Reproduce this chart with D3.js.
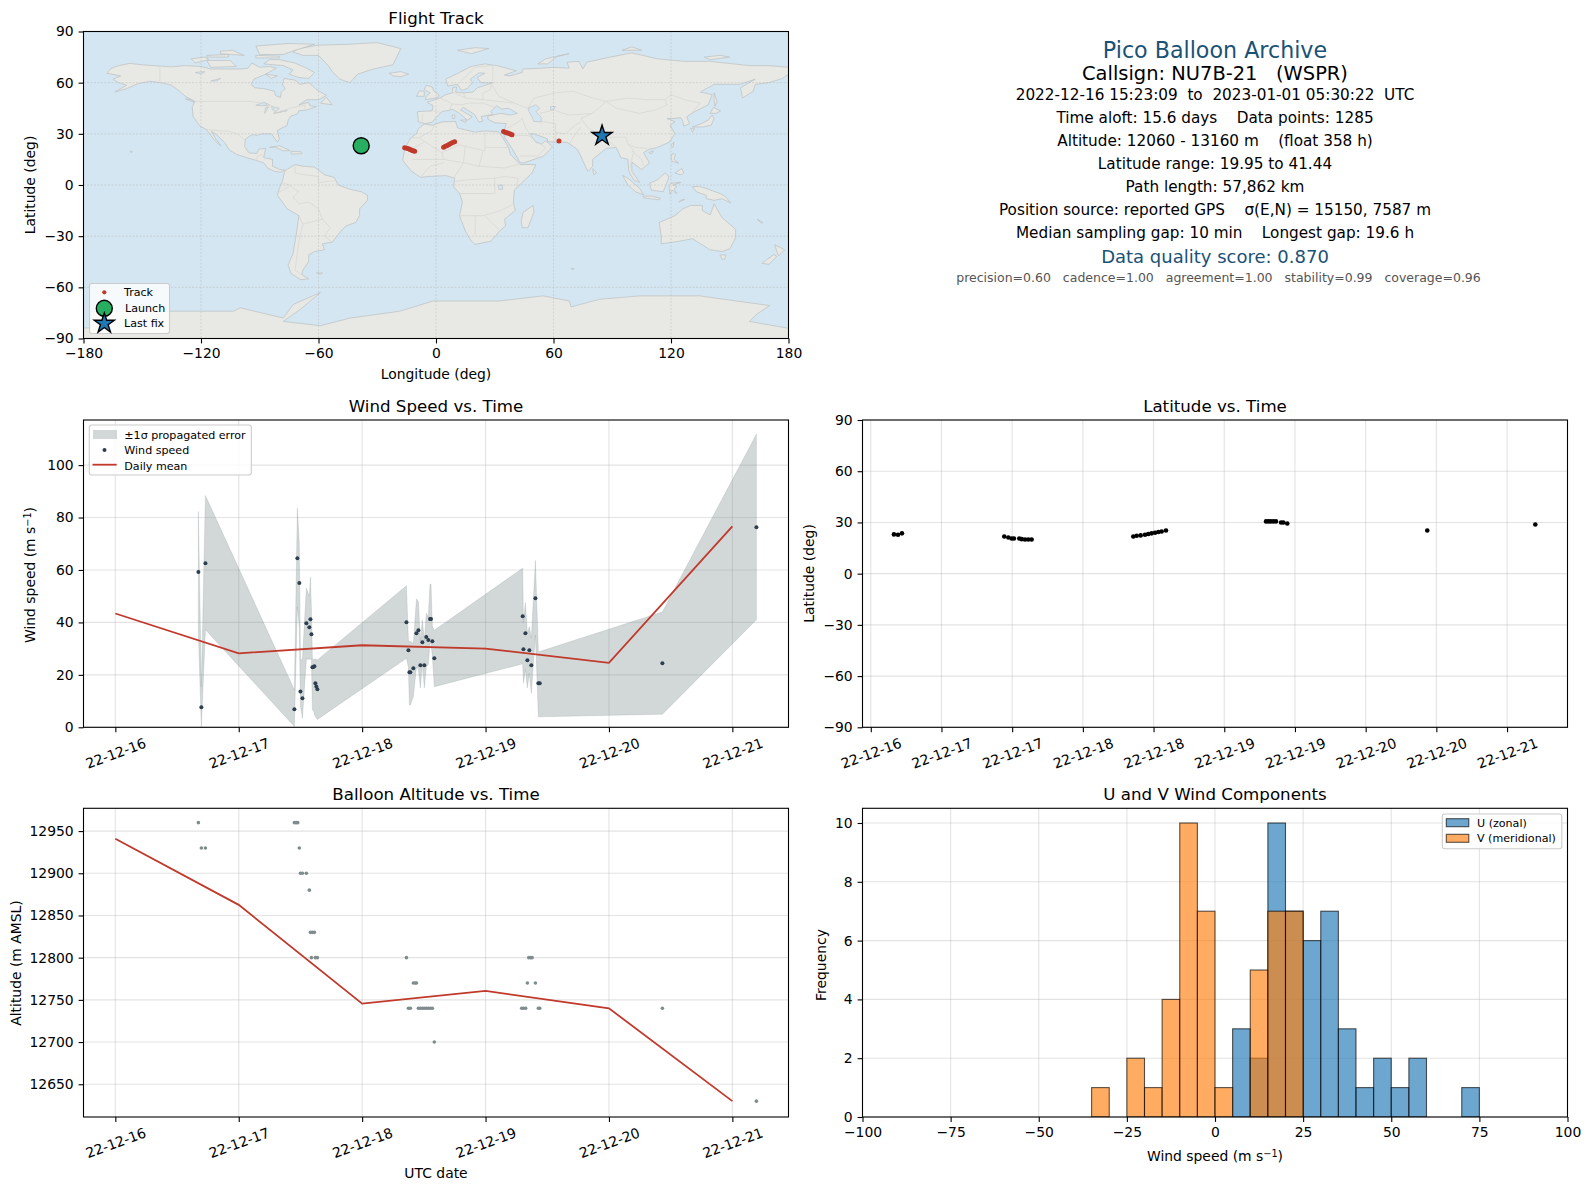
<!DOCTYPE html>
<html lang="en">
<head>
<meta charset="UTF-8">
<title>Pico Balloon Archive - NU7B-21</title>
<script src="https://d3js.org/d3.v7.min.js"></script>
<style>
  html, body { margin: 0; padding: 0; background: #fff; }
  svg { display: block; }
  text { font-family: 'DejaVu Sans', sans-serif; fill: #000; white-space: pre; }
  .axis path, .axis line { stroke: #000; stroke-width: 1.1px; }
  .axis text { font-size: 13.9px; }
  .title { font-size: 16.67px; text-anchor: middle; }
  .label { font-size: 13.9px; text-anchor: middle; }
  .grid line { stroke: #b0b0b0; stroke-opacity: 0.35; stroke-width: 1.1px; }
  .legend-box { fill: #fff; fill-opacity: 0.8; stroke: #ccc; stroke-width: 1.1px; }
  .legend text { font-size: 11.1px; }
</style>
</head>
<body>
<svg id="fig" width="1589" height="1189"></svg>
<script>
// ---- flight track ----
const trackLon = [-16,-15,-14,-13.2,-12.4,-11.7,-10.9, 3.9,4.8,5.7,6.6,7.5,8.5,9.5, 34.5,35.3,36.1,37,37.9,38.8, 62.8];
const trackLat = [21.9,21.6,21.2,20.8,20.4,20.1,19.8, 22.1,22.7,23.2,23.8,24.3,24.9,25.4, 31.3,31,30.6,30.3,29.9,29.5, 25.8];
const launchPos = [-38.2, 23];
const lastFix = [84.8, 28.9];

// ---- wind speed, day offsets from the first tick ----
const windDay = [0.673,0.697,0.730,1.451,1.475,1.491,1.500,1.516,1.548,1.572,1.581,1.589,1.597,1.605,1.613,1.621,1.629,1.637,2.359,2.375,2.383,2.391,2.415,2.440,2.456,2.472,2.488,2.504,2.520,2.536,2.550,2.558,2.569,2.585,3.301,3.307,3.323,3.339,3.355,3.371,3.404,3.428,3.439,4.433,5.195];
const windVal = [59.2,7.6,62.6,6.9,64.5,55.0,13.7,11.1,39.7,38.2,41.2,35.5,22.9,23.0,23.3,16.8,15.6,14.5,40.1,29.4,21.0,21.0,22.5,35.9,37.0,23.7,32.4,23.7,34.4,33.3,41.3,41.3,32.8,26.3,42.4,29.8,35.9,25.6,29.4,23.7,49.2,16.8,16.8,24.4,76.3];
const windHi = [82.3,15.5,88.4,14.2,83.6,70,25.7,26,53,50,57.3,44.8,26,26,26,26,26,25.7,54,33,32.7,32.7,32,49,48,33,41,33,43.5,42,54.6,54.6,38.4,37,60.7,40,47.6,35.9,38.4,34,63.6,28.9,28.9,44,111.8];
const windLo = [36,0,37.2,0.3,46,38,8,3.4,26,26,26,26,6.6,6.6,5,4,3.5,3,26.3,23,8.5,8.5,11.7,23,22,15,24,15,23,24,32,32,27,15.5,24.2,16.8,22,15,20.6,13,35.2,4,4,5,41];
const meanDay = [0,1,2,3,4,5];
const windMean = [43.4,28.2,31.3,30,24.6,76.6];
const altMean = [12941,12862.6,12745.6,12760.6,12740,12630];

// ---- latitude vs time ----
const latDay = [0.182,0.214,0.245,1.049,1.081,1.107,1.125,1.167,1.186,1.212,1.238,1.264,2.063,2.09,2.121,2.155,2.181,2.207,2.234,2.26,2.286,2.32,3.106,3.124,3.143,3.163,3.184,3.224,3.242,3.273,4.373,5.222];
const latVal = [23,22.8,23.6,21.8,21.2,20.6,20.6,20.6,20.2,20,20,20,21.8,22.2,22.4,22.8,23.2,23.6,24,24.4,24.7,25.3,30.6,30.6,30.6,30.6,30.6,30,30,29.4,25.3,28.8];

// ---- altitude vs time ----
const altDay = [0.673,0.697,0.730,1.451,1.465,1.478,1.491,1.5,1.516,1.548,1.572,1.581,1.597,1.613,1.589,1.621,1.637,2.359,2.375,2.391,2.415,2.43,2.44,2.456,2.472,2.488,2.504,2.52,2.536,2.553,2.569,2.585,3.293,3.309,3.325,3.339,3.35,3.366,3.377,3.404,3.428,3.439,4.433,5.195];
const altVal = [12960,12930,12930,12960,12960,12960,12930,12900,12900,12900,12880,12830,12830,12830,12800,12800,12800,12800,12740,12740,12770,12770,12770,12740,12740,12740,12740,12740,12740,12740,12740,12700,12740,12740,12740,12770,12800,12800,12800,12770,12740,12740,12740,12630];

// ---- histogram, 5 m/s bins, left edge ----
const uEdges = [5,10,15,20,25,30,35,40,45,50,55,70];
const uCounts = [3,2,10,7,6,7,3,1,2,1,2,1];
const vEdges = [-35,-25,-20,-15,-10,-5,0,10,15,20];
const vCounts = [1,2,1,4,10,7,1,5,7,7];

const dayTicks2 = [0,1,2,3,4,5];
const dayLabels2 = ["22-12-16","22-12-17","22-12-18","22-12-19","22-12-20","22-12-21"];
const dayTicks1 = [0,0.5556,1.1111,1.6667,2.2222,2.7778,3.3333,3.8889,4.4444,5];
const dayLabels1 = ["22-12-16","22-12-17","22-12-17","22-12-18","22-12-18","22-12-19","22-12-19","22-12-20","22-12-20","22-12-21"];

const infoText = [
  "Pico Balloon Archive",
  "Callsign: NU7B-21   (WSPR)",
  "2022-12-16 15:23:09  to  2023-01-01 05:30:22  UTC",
  "Time aloft: 15.6 days    Data points: 1285",
  "Altitude: 12060 - 13160 m    (float 358 h)",
  "Latitude range: 19.95 to 41.44",
  "Path length: 57,862 km",
  "Position source: reported GPS    σ(E,N) = 15150, 7587 m",
  "Median sampling gap: 10 min    Longest gap: 19.6 h",
  "Data quality score: 0.870",
  "precision=0.60   cadence=1.00   agreement=1.00   stability=0.99   coverage=0.96"
];

// ---- simplified land, [lon,lat] rings ----
const landRings = [
  [[-168,65.5],[-166,68.3],[-162,70],[-156.5,71.3],[-150,70.5],[-141,69.7],[-135,69.3],[-128,70],[-120,69.5],[-115,68],[-108,68],[-100,68],[-96,68.5],[-94,71.5],[-90,69],[-85,69.5],[-81.5,68.5],[-87,65],[-93,62],[-94.5,59],[-92.5,57],[-88,56.5],[-82.5,55],[-82,52.5],[-79.5,51.3],[-79,54.5],[-77,56.5],[-78.5,59],[-77.5,62.5],[-72,61.5],[-69.5,59],[-65,60],[-61,56],[-56,52.5],[-60,50],[-66,50],[-70,47],[-65,48.5],[-64.5,46.5],[-61,46],[-66,44],[-70,43.5],[-71,41.5],[-74,40.5],[-75.5,38],[-76,35],[-81,32],[-80,27],[-81,25.2],[-82.8,28],[-84,30],[-89,30],[-91,29.2],[-94,29.5],[-97.3,27],[-97.7,22.5],[-95.5,18.8],[-91.5,18.5],[-90.5,21],[-87,21.5],[-88,16],[-83.5,15],[-83.5,11],[-80,9.2],[-77.3,8.7],[-79.5,7.5],[-83,8.2],[-86,10],[-88,13],[-92,14.5],[-96,15.8],[-102,18],[-105.5,20.5],[-108,25],[-112,29.5],[-114.7,31.5],[-112.5,27],[-109.8,23],[-112,25],[-115,29],[-117.2,32.5],[-120.5,34.5],[-124,40],[-124.5,46],[-123,49],[-128,52],[-131,55],[-135,58.5],[-140,60],[-146,60.8],[-152,59.5],[-158,56.5],[-164,54.5],[-158,58.5],[-162,60],[-165,62],[-161,64]],
  [[-73,78],[-68,76],[-60,76],[-55,70],[-53,66.5],[-49,62],[-44,60],[-40,65],[-32,68],[-22,70.5],[-20,75],[-18,80],[-30,83.5],[-45,82.5],[-60,82],[-70,80]],
  [[-80,73.5],[-72,71.5],[-67,69],[-62,66],[-65,62.5],[-70,63],[-75,65],[-73,67.5],[-78,70],[-88,71],[-85,73.5]],
  [[-117,73],[-105,73],[-102,69.5],[-115,69]],
  [[-125,74],[-118,75],[-116,73.5],[-123,71.5]],
  [[-90,76.5],[-78,76.5],[-72,79],[-62,82.5],[-75,83],[-92,81.5]],
  [[-92,76],[-80,75.5],[-80,74.5],[-92,74.5]],
  [[-117,76],[-106,76.5],[-106,75],[-117,75]],
  [[-110,78.5],[-104,79],[-98,76],[-110,77]],
  [[-87,65],[-81,64],[-84,62.5]],
  [[-59,48],[-56,51.5],[-53,47]],
  [[-128,50.5],[-125,50],[-123.5,48.5]],
  [[-156,20],[-155,19.5],[-155.7,19]],
  [[-85,22],[-80,23],[-74.5,20.2],[-78,20],[-82,22.2]],
  [[-74,19.8],[-69,19.5],[-68.5,18.3],[-74,18.2]],
  [[-61,-51.5],[-58,-51.5],[-59,-52.3]],
  [[-77,8.5],[-72,12],[-68,11],[-62,10.5],[-57,6],[-52,4.5],[-50,0],[-44,-2.5],[-38,-4],[-35,-6],[-35,-9],[-39,-14],[-39,-18],[-41,-22],[-46,-24],[-48.5,-27],[-53,-33.5],[-58,-34.5],[-57,-38],[-62,-39],[-65,-41],[-65,-45],[-68,-50],[-68.5,-52.5],[-65,-55],[-69,-55.5],[-74,-52],[-75.5,-47],[-73,-40],[-71.5,-30],[-70,-18],[-76,-14],[-81,-6],[-80,-2],[-78.5,2],[-77.5,7]],
  [[-6,35.8],[-2,35],[3,37],[10,37.3],[11,33.5],[15,32.3],[20,31],[25,31.7],[32,31.2],[34,28],[37,22],[38,18],[43,12],[51,12],[49,7],[44,1.5],[40,-3],[39.5,-10],[40.5,-15],[35,-20],[35.5,-24],[32.5,-27],[28,-33],[20,-34.8],[18,-33],[15,-27],[12,-18],[13.5,-10],[12,-5],[9,-1],[9.5,4],[5,5.5],[-4,5],[-8,4.5],[-13,8.5],[-17,14.5],[-16,21],[-13,27.5],[-10,30],[-9,33]],
  [[-9,37],[-9.5,43],[-2,43.5],[-1.5,46.5],[-4.5,48.5],[2,51],[5,53],[8.5,54],[8.5,57],[10.5,57.5],[10,54.5],[14,54],[19,54.5],[21,57],[24,58],[29,60],[23,60],[21,63],[25,65.5],[22,65.8],[17.5,62],[18.5,60],[16,56.5],[13,55.5],[11,59],[6,58],[5,62],[12,66],[18,69.5],[25,71],[31,70],[41,67],[35,64.5],[38,64],[44,66],[44,68],[54,68.5],[60,69],[68,68.5],[67,72],[73,72.5],[75,68],[77,72],[87,74.5],[100,77.5],[113,74],[127,72.5],[140,72.5],[160,70],[170,70],[180,69],[180,65],[177,62.5],[170,60],[163,59],[162,55],[156.5,51],[155.5,57],[163,62],[155,59],[142,59],[135,54.5],[141,53],[139,47],[132,43],[128,40],[129.5,36],[126.5,34.5],[126,37.5],[125,39.5],[121.5,39],[118,39],[122,37],[119.5,35],[122,30],[119,25],[113,22],[109,21],[106,19],[109,13],[105,9],[100,13.5],[100,8],[104,1.5],[101,3],[98.5,8],[98,15],[94.5,16],[92,22],[87,21.5],[80,15],[80,11],[77.5,8],[73,19],[72,21],[67,25],[61,25],[57,25.5],[57,27],[50,30],[48,30],[51,25],[54,24],[56,26],[59.5,22.5],[55,17],[45,13],[43,13],[39,21],[35,28],[34.5,31.5],[36,36],[30,36.5],[26.5,38.5],[26.5,40.5],[29,41],[33,42],[38,41],[41.5,42],[37,45],[33.5,44.5],[31,46.5],[28,43],[29,41.2],[26,40.8],[23,40],[24,37.5],[22,36.8],[19.5,41.5],[14,45.5],[12.5,44],[18.5,40],[16,38],[12,42],[8.5,44.3],[3,43],[0,39.5],[-2,36.8],[-5.5,36]],
  [[114,-22],[122,-18],[126,-14],[130,-12],[136,-12],[136,-15],[140,-17.5],[142,-11],[146,-19],[153,-26],[153,-31],[150,-37.5],[146,-39],[140,-38],[135,-34.5],[131,-31.5],[124,-33],[115,-34.5],[115,-30]],
  [[145,-41],[148,-41],[147.5,-43.5],[146,-43.5]],
  [[173,-35],[178,-38],[175,-41.5],[174,-39]],
  [[172.5,-40.7],[174,-42],[170,-46.5],[166.5,-46]],
  [[-180,-90],[-180,-83.8],[-176.6,-83.8],[-176.6,-74],[-137.5,-74],[-103.4,-74],[-100,-72],[-78,-78],[-72.8,-70],[-59,-63],[-69.4,-73],[-78,-80],[-59,-82.5],[-43.8,-78],[-18.5,-74],[-1.5,-68],[32.5,-68],[54.6,-65],[68,-68],[69,-71.5],[83.5,-67],[104,-65],[134.6,-65],[170.4,-70.7],[163.5,-76],[160,-80],[180,-84],[180,-90]],
  [[49.5,-12],[50,-16],[47,-25],[44,-25],[43.5,-21],[44.5,-16]],
  [[-5.5,50],[1,51.3],[1.5,52.8],[-1,55],[-2,57.5],[-5,58.5],[-6,56],[-3,54],[-5,52]],
  [[-10,52],[-6,52],[-6,55],[-8.5,55.2]],
  [[-24,65.5],[-18,66.5],[-14,65],[-18,63.5],[-22,64]],
  [[11,79],[20,80.5],[27,80],[18,77]],
  [[52,71],[56,74],[68,77],[62,75.5],[57,71]],
  [[95,79],[105,79],[100,81]],
  [[137,75],[145,76],[150,75],[140,73.5]],
  [[142,54],[143.5,49],[142.5,46],[142,50]],
  [[130.8,34],[135,35.7],[139,38],[141,41],[142,39],[140.5,35],[136,34]],
  [[130,33],[132,33],[131,31]],
  [[140,42],[141.7,45.5],[145.3,43.5],[143,42]],
  [[120,23],[121.5,25.2],[121,22]],
  [[108.7,19],[111,20],[110,18.2]],
  [[80,9.5],[82,7],[80.5,6]],
  [[120,16],[120.7,18.5],[122.3,18],[121.5,15],[124,12.8],[120.6,13.8]],
  [[122,7],[125.5,9.7],[126.5,7],[125,6]],
  [[109,1],[113,3],[117,7],[119,5],[117.8,1],[116,-4],[110,-3]],
  [[95.3,5.6],[98,4],[104,-2],[106,-5.8],[102,-4],[98,0]],
  [[105.5,-6.5],[110,-6.5],[114.5,-7.7],[114,-8.7],[106,-7.5]],
  [[119.5,-5.5],[119,-1],[120,1],[125,1.5],[121,0],[123,-1],[121.5,-2.5],[123,-5],[120.5,-3]],
  [[131,-1],[134,-0.8],[138,-2],[145,-5],[147.5,-6.5],[150.5,-10.5],[146,-8],[142,-9],[138,-8],[138,-6],[133,-4]],
  [[124,-10],[127,-8.5],[125,-8.9]],
  [[164,-20],[167,-22],[166,-22.3]],
  [[69,-49],[70.5,-49],[70,-49.7]],
  [[8.2,41],[9.7,41],[9.5,39],[8.4,39]],
  [[12.5,38],[15.5,38.2],[15,36.7]]
];
const lakeRings = [
  [[47,45],[51,47],[53,45],[51,43],[53.5,40],[54,37],[50,37.3],[49,40],[47.5,43]],
  [[58.5,46],[61,46],[60,44],[58.5,44]],
  [[-92,46.7],[-88,48.5],[-85,47],[-87,46.5]],
  [[-87.5,42],[-85.5,45.8],[-87,45.5]],
  [[-84,46],[-80,45],[-81.7,43.2],[-83.5,44]],
  [[-83,42],[-79,43],[-76,44],[-76.5,43.3],[-79.5,43.2],[-79,42.7]],
  [[32,0],[34,0],[34,-2.5],[32,-2.5]],
  [[-115,61],[-110,62.5],[-112,61]],
  [[-123,66],[-118,66.5],[-120,65]]
];
const borderLines = [
  [[-141,69.7],[-141,60],[-135,58.5]],
  [[-123,49],[-95,49],[-89,48],[-83,46],[-82.5,42.5],[-79,43],[-75,45],[-70,46],[-67,47],[-67,45]],
  [[-117,32.5],[-108,31.5],[-106,31.7],[-101,29.5],[-97.3,26]],
  [[-92,14.5],[-91,17],[-89,17.8],[-88,16]],
  [[-72,12],[-72,7],[-67,6],[-60,5],[-60,1.5],[-52,2.5]],
  [[-70,-4],[-73,-7],[-70,-11],[-65,-10],[-60,-14],[-58,-20],[-54,-25],[-57,-30],[-53,-33.5]],
  [[-78.5,1.5],[-75,0],[-70,-4]],
  [[-80,-4],[-75,-1]],
  [[-70,-18],[-68,-23],[-70,-33],[-72,-50],[-68.5,-52.5]],
  [[-68,-23],[-58,-20]],
  [[-8.7,27.7],[-13,27.7]],
  [[-8.7,27.7],[-2,32],[-1,35]],
  [[-8.7,27.7],[3,19],[12,23.5],[25,20],[25,31.7]],
  [[-17,21],[-13,21],[-6,25]],
  [[3,19],[4,15],[14,13],[15,23]],
  [[-12,15],[4,15]],
  [[25,22],[36.8,22]],
  [[14,13],[22,11],[24,20]],
  [[22,11],[35,10],[42,12]],
  [[9,4],[14,13]],
  [[12,-5],[30,-5],[30,4],[35,5],[42,4],[41,-2]],
  [[30,4],[16,3],[9,2]],
  [[12,-18],[24,-18],[33,-15],[40,-11]],
  [[20,-29],[20,-18]],
  [[25,-18],[32,-26]],
  [[-8,4.5],[-3,11],[4,13]],
  [[28,60],[32,52],[40,48],[47,45],[50,51],[61,54],[70,55],[80,51],[87,49],[98,51],[108,50],[117,50],[120,53],[127,50],[135,48],[131,43]],
  [[87,49],[92,45],[104,42],[112,44],[118,47],[117,50]],
  [[87,49],[80,42],[74,39],[78,33],[88,28],[97,28],[98,24],[102,22],[108,21.5]],
  [[53,42],[60,44],[68,41],[80,42]],
  [[44,39],[46,33],[48,30]],
  [[61,25],[61,31],[61,36],[53,37.5]],
  [[74,34],[70,28],[68,24]],
  [[61,31],[66,30],[71,35],[74,37]],
  [[88,26],[92,22]],
  [[2,51],[6,49],[8,47.5],[7,44]],
  [[8,47.5],[13,47],[17,48],[24,48],[30,45.5]],
  [[-1.5,43.3],[3,42.5]],
  [[-7,37.2],[-7,42]],
  [[8,54.8],[15,51],[14,54]],
  [[15,51],[24,50],[24,54],[28,56],[28,60]],
  [[24,50],[40,48]],
  [[35,29],[47,29],[56,22],[52,17],[43,17]],
  [[36,33],[42,37],[44,39]],
  [[100,20],[105,15],[106,11]],
  [[98,24],[101,20],[99,10]],
  [[12,60],[20,69],[29,70],[29,61]]
];

const RED = "#c0392b", NAVY = "#2c3e50", GREY = "#7f8c8d", BLUE = "#1a5276";
const svg = d3.select("#fig");
let clipId = 0;

// one matplotlib-like axes box
function panel(box, xDomain, yDomain, xTicks, yTicks, xFmt, yFmt, rotate) {
  const x = d3.scaleLinear().domain(xDomain).range([box.l, box.r]);
  const y = d3.scaleLinear().domain(yDomain).range([box.b, box.t]);
  const g = svg.append("g");
  const id = "clip" + (clipId++);
  svg.append("clipPath").attr("id", id).append("rect")
    .attr("x", box.l).attr("y", box.t).attr("width", box.r - box.l).attr("height", box.b - box.t);
  const bg = g.append("g");
  const grid = g.append("g").attr("class", "grid");
  grid.selectAll(".gx").data(xTicks).join("line").attr("class", "gx")
    .attr("x1", d => x(d)).attr("x2", d => x(d)).attr("y1", box.t).attr("y2", box.b);
  grid.selectAll(".gy").data(yTicks).join("line").attr("class", "gy")
    .attr("y1", d => y(d)).attr("y2", d => y(d)).attr("x1", box.l).attr("x2", box.r);
  const plot = g.append("g").attr("clip-path", `url(#${id})`);

  const finish = () => {
    const xa = svg.append("g").attr("class", "axis").attr("transform", `translate(0,${box.b})`)
      .call(d3.axisBottom(x).tickValues(xTicks).tickSize(4.9).tickPadding(4.9).tickFormat(xFmt));
    xa.select(".domain").remove();
    const ya = svg.append("g").attr("class", "axis").attr("transform", `translate(${box.l},0)`)
      .call(d3.axisLeft(y).tickValues(yTicks).tickSize(4.9).tickPadding(4.9).tickFormat(yFmt));
    ya.select(".domain").remove();
    if (rotate) {
      xa.selectAll("text").attr("y", 0).attr("dy", "0.35em").attr("text-anchor", "middle")
        .attr("transform", "translate(0,26) rotate(-20)");
    }
    svg.append("rect").attr("x", box.l).attr("y", box.t)
      .attr("width", box.r - box.l).attr("height", box.b - box.t)
      .attr("fill", "none").attr("stroke", "#000").attr("stroke-width", 1.1);
  };
  return {x, y, g, bg, grid, plot, finish};
}

const minus = d => String(d).replace("-", "\u2212");
const dayFmt = (ticks, labels) => d => labels[ticks.indexOf(d)];

function title(txt, x, y) {
  svg.append("text").attr("class", "title").attr("x", x).attr("y", y).text(txt);
}
function label(txt, x, y, vertical, sup) {
  const t = svg.append("text").attr("class", "label");
  if (vertical) t.attr("transform", `translate(${x},${y}) rotate(-90)`);
  else t.attr("x", x).attr("y", y);
  t.append("tspan").text(txt);
  if (sup) {
    t.append("tspan").attr("dy", "-0.4em").style("font-size", "9.7px").text(sup);
    t.append("tspan").attr("dy", "0.28em").text(")");
  }
}
function legendBox(x, y, w, h) {
  const g = svg.append("g").attr("class", "legend");
  g.append("rect").attr("class", "legend-box").attr("x", x).attr("y", y)
    .attr("width", w).attr("height", h).attr("rx", 2.5);
  return g;
}

const L = {l: 83.5, r: 788.5}, R = {l: 862.5, r: 1567.5};

// ---- map ----
{
  const p = panel({...L, t: 31.5, b: 338.5}, [-180, 180], [-90, 90],
    d3.range(-180, 181, 60), d3.range(-90, 91, 30), minus, minus);
  p.grid.raise();
  p.grid.selectAll("line").style("stroke-dasharray", "2,1.5").style("stroke-opacity", 0.55).style("stroke-width", 0.7);
  p.bg.append("rect").attr("x", L.l).attr("y", 31.5).attr("width", L.r - L.l).attr("height", 307).attr("fill", "#d4e6f1");
  const path = d3.line().x(d => p.x(d[0])).y(d => p.y(d[1]));
  const ring = d => path(d) + "Z";
  p.bg.selectAll(".land").data(landRings).join("path").attr("class", "land")
    .attr("d", ring).attr("fill", "#e8e8e4").attr("stroke", "#bcc0c0").attr("stroke-width", 0.7);
  p.bg.selectAll(".lake").data(lakeRings).join("path").attr("class", "lake")
    .attr("d", ring).attr("fill", "#d4e6f1").attr("stroke", "#bcc0c0").attr("stroke-width", 0.6);
  p.bg.selectAll(".border").data(borderLines).join("path").attr("class", "border")
    .attr("d", path).attr("fill", "none").attr("stroke", "#d6d6d2").attr("stroke-width", 0.7);
  p.plot.raise();
  p.plot.selectAll("circle.t").data(trackLon).join("circle").attr("class", "t")
    .attr("cx", d => p.x(d)).attr("cy", (d, i) => p.y(trackLat[i])).attr("r", 2.5).attr("fill", RED);
  p.plot.append("circle").attr("cx", p.x(launchPos[0])).attr("cy", p.y(launchPos[1])).attr("r", 8)
    .attr("fill", "#27ae60").attr("stroke", "#000").attr("stroke-width", 1.4);
  const star = d3.symbol().type(d3.symbolStar).size(126);
  p.plot.append("path").attr("d", star).attr("transform", `translate(${p.x(lastFix[0])},${p.y(lastFix[1])})`)
    .attr("fill", "#1f77b4").attr("stroke", "#000").attr("stroke-width", 1.4);
  p.finish();
  title("Flight Track", 436, 23.7);
  label("Longitude (deg)", 436, 379);
  label("Latitude (deg)", 35, 185, true);
  const lg = legendBox(89.5, 283.5, 80, 50);
  lg.append("circle").attr("cx", 104.3).attr("cy", 292.3).attr("r", 2.1).attr("fill", RED);
  lg.append("text").attr("x", 124).attr("y", 296.2).text("Track");
  lg.append("circle").attr("cx", 104.3).attr("cy", 308.3).attr("r", 8).attr("fill", "#27ae60").attr("stroke", "#000").attr("stroke-width", 1.4);
  lg.append("text").attr("x", 125).attr("y", 312).text("Launch");
  lg.append("path").attr("d", star).attr("transform", "translate(104.3,323.5)").attr("fill", "#1f77b4").attr("stroke", "#000").attr("stroke-width", 1.4);
  lg.append("text").attr("x", 124).attr("y", 327).text("Last fix");
}

// ---- text block ----
{
  const sizes = [22.2, 19.44, 15.25, 15.25, 15.25, 15.25, 15.25, 15.25, 15.25, 18, 12.5];
  const ys = [50, 73.3, 94.3, 117.7, 140.3, 163.7, 186.7, 209.3, 232.3, 256.7, 277.5];
  const fills = ["" + BLUE, "#000", "#000", "#000", "#000", "#000", "#000", "#000", "#000", BLUE, "#555"];
  const cx = (R.l + R.r) / 2;
  svg.append("g").selectAll("text").data(infoText).join("text")
    .attr("x", (d, i) => i == 10 ? cx + 3.5 : cx).attr("y", (d, i) => ys[i]).attr("dy", "0.36em")
    .attr("text-anchor", "middle")
    .style("font-size", (d, i) => sizes[i] + "px").style("fill", (d, i) => fills[i]).text(d => d);
}

// ---- wind speed ----
{
  const p = panel({...L, t: 420, b: 727.3}, [-0.258, 5.455], [0, 117.2],
    dayTicks2, d3.range(0, 101, 20), dayFmt(dayTicks2, dayLabels2), d3.format("d"), true);
  const area = d3.area().x(d => p.x(d)).y0((d, i) => p.y(windLo[i])).y1((d, i) => p.y(windHi[i]));
  p.plot.append("path").attr("d", area(windDay)).attr("fill", GREY).attr("fill-opacity", 0.35).attr("stroke", GREY).attr("stroke-opacity", 0.2);
  p.plot.selectAll("circle").data(windDay).join("circle")
    .attr("cx", d => p.x(d)).attr("cy", (d, i) => p.y(windVal[i])).attr("r", 2).attr("fill", NAVY);
  const line = d3.line().x(d => p.x(d)).y((d, i) => p.y(windMean[i]));
  p.plot.append("path").attr("d", line(meanDay)).attr("fill", "none").attr("stroke", RED).attr("stroke-width", 1.8);
  p.finish();
  title("Wind Speed vs. Time", 436, 411.7);
  label("Wind speed (m s", 35, 575, true, "\u22121");
  const lg = legendBox(89.3, 425, 162, 50);
  lg.append("rect").attr("x", 93).attr("y", 430).attr("width", 24).attr("height", 9).attr("fill", GREY).attr("fill-opacity", 0.35);
  lg.append("circle").attr("cx", 104.5).attr("cy", 450).attr("r", 2).attr("fill", NAVY);
  lg.append("line").attr("x1", 92.5).attr("x2", 116.7).attr("y1", 464.7).attr("y2", 464.7).attr("stroke", RED).attr("stroke-width", 1.8);
  lg.append("text").attr("x", 124.3).attr("y", 439.2).text("±1σ propagated error");
  lg.append("text").attr("x", 124.3).attr("y", 454).text("Wind speed");
  lg.append("text").attr("x", 124.3).attr("y", 470).text("Daily mean");
}

// ---- latitude ----
{
  const p = panel({...R, t: 420, b: 727.3}, [-0.065, 5.475], [-90, 90],
    dayTicks1, d3.range(-90, 91, 30), dayFmt(dayTicks1, dayLabels1), minus, true);
  p.plot.selectAll("circle").data(latDay).join("circle")
    .attr("cx", d => p.x(d)).attr("cy", (d, i) => p.y(latVal[i])).attr("r", 2.3).attr("fill", "#000");
  p.finish();
  title("Latitude vs. Time", 1215, 411.7);
  label("Latitude (deg)", 814, 573.5, true);
}

// ---- altitude ----
{
  const p = panel({...L, t: 808.3, b: 1117}, [-0.258, 5.455], [12611.2, 12977],
    dayTicks2, d3.range(12650, 12951, 50), dayFmt(dayTicks2, dayLabels2), d3.format("d"), true);
  p.plot.selectAll("circle").data(altDay).join("circle")
    .attr("cx", d => p.x(d)).attr("cy", (d, i) => p.y(altVal[i])).attr("r", 1.8).attr("fill", GREY);
  const line = d3.line().x(d => p.x(d)).y((d, i) => p.y(altMean[i]));
  p.plot.append("path").attr("d", line(meanDay)).attr("fill", "none").attr("stroke", RED).attr("stroke-width", 1.8);
  p.finish();
  title("Balloon Altitude vs. Time", 436, 800);
  label("UTC date", 436, 1178);
  label("Altitude (m AMSL)", 21, 963, true);
}

// ---- histogram ----
{
  const p = panel({...R, t: 808.3, b: 1117}, [-100, 100], [0, 10.5],
    d3.range(-100, 101, 25), d3.range(0, 11, 2), minus, d3.format("d"));
  const bars = (edges, counts, color) => p.plot.append("g").selectAll("rect").data(edges).join("rect")
    .attr("x", d => p.x(d)).attr("width", d => p.x(d + 5) - p.x(d))
    .attr("y", (d, i) => p.y(counts[i])).attr("height", (d, i) => p.y(0) - p.y(counts[i]))
    .attr("fill", color).attr("fill-opacity", 0.65)
    .attr("stroke", "#000").attr("stroke-opacity", 0.65).attr("stroke-width", 1.1);
  bars(uEdges, uCounts, "#1f77b4");
  bars(vEdges, vCounts, "#ff7f0e");
  p.finish();
  title("U and V Wind Components", 1215, 800);
  label("Wind speed (m s", 1215, 1161, false, "\u22121");
  label("Frequency", 826, 965, true);
  const lg = legendBox(1442.3, 814, 119.5, 34.7);
  [["U (zonal)", "#1f77b4", 818.7], ["V (meridional)", "#ff7f0e", 834.3]].forEach(d => {
    lg.append("rect").attr("x", 1446.3).attr("y", d[2]).attr("width", 22.5).attr("height", 8)
      .attr("fill", d[1]).attr("fill-opacity", 0.65).attr("stroke", "#000").attr("stroke-opacity", 0.65).attr("stroke-width", 1.1);
    lg.append("text").attr("x", 1477).attr("y", d[2] + 8).text(d[0]);
  });
}
</script>
</body>
</html>
